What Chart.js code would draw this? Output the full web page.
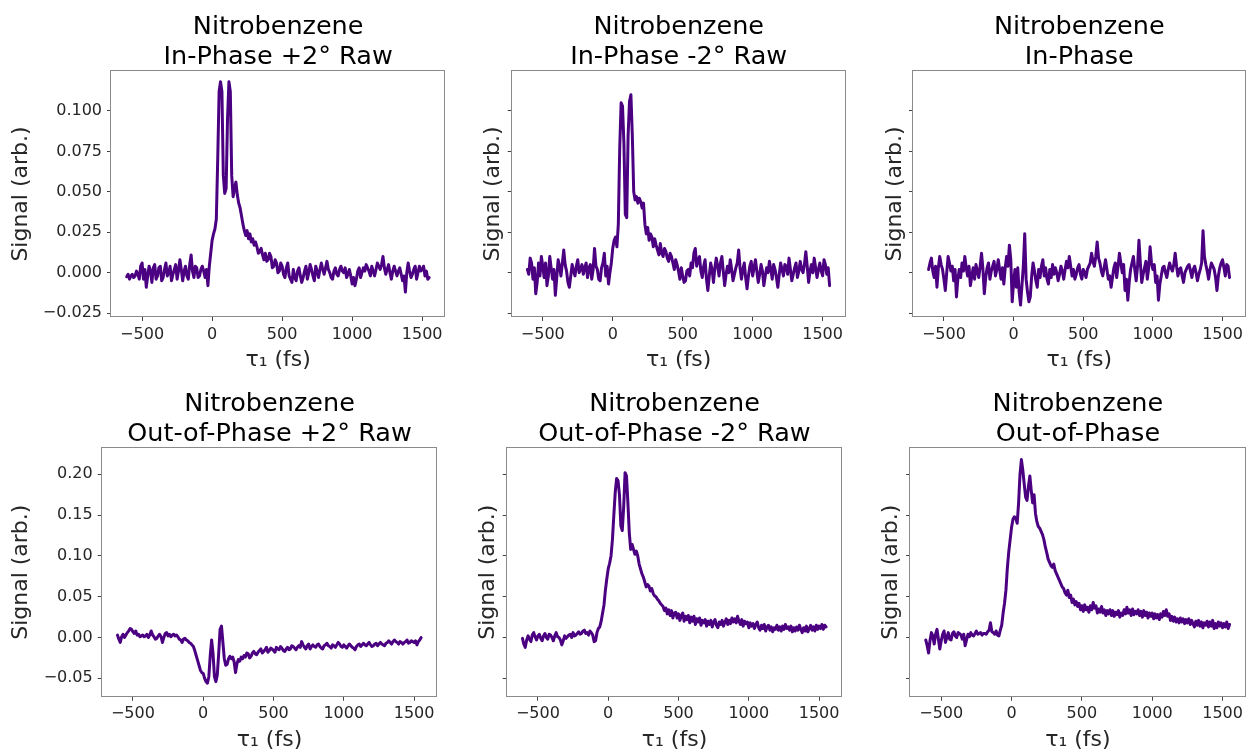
<!DOCTYPE html>
<html><head><meta charset="utf-8">
<script src="https://cdn.jsdelivr.net/npm/chart.js@4.4.1/dist/chart.umd.min.js"></script>
<style>
html,body{margin:0;padding:0;background:#fff;overflow:hidden;}
#wrap{position:relative;width:1247px;height:749px;overflow:hidden;background:#fff;}
canvas{position:absolute;}
</style></head><body><div id="wrap"></div>
<script>
// delay axis (fs)
const tau = [
 -610,-600,-590,-580,-570,-560,-550,-540,-530,-520,
 -510,-500,-490,-480,-470,-460,-450,-440,-430,-420,
 -410,-400,-390,-380,-370,-360,-350,-340,-330,-320,
 -310,-300,-290,-280,-270,-260,-250,-240,-230,-220,
 -210,-200,-190,-180,-170,-160,-150,-140,-130,-120,
 -110,-100,-90,-80,-70,-60,-50,-40,-30,-20,
 -10,0,10,20,30,40,50,60,70,80,
 90,100,110,120,130,140,150,160,170,180,
 190,200,210,220,230,240,250,260,270,280,
 290,300,310,320,330,340,350,360,370,380,
 390,400,410,420,430,440,450,460,470,480,
 490,500,510,520,530,540,550,560,570,580,
 590,600,610,620,630,640,650,660,670,680,
 690,700,710,720,730,740,750,760,770,780,
 790,800,810,820,830,840,850,860,870,880,
 890,900,910,920,930,940,950,960,970,980,
 990,1000,1010,1020,1030,1040,1050,1060,1070,1080,
 1090,1100,1110,1120,1130,1140,1150,1160,1170,1180,
 1190,1200,1210,1220,1230,1240,1250,1260,1270,1280,
 1290,1300,1310,1320,1330,1340,1350,1360,1370,1380,
 1390,1400,1410,1420,1430,1440,1450,1460,1470,1480,
 1490,1500,1510,1520,1530,1540,1550
];
const inPhasePlusRaw = [
 -0.0025,-0.001,-0.004,-0.002,-0.001,-0.003,-0.002,0.001,-0.001,-0.004,
 0.004,0.006,-0.004,0.002,-0.009,-0.002,0.004,0.001,-0.006,0.003,
 0.005,-0.004,-0.002,0.003,0.004,-0.005,-0.003,0.002,0.006,-0.002,
 0.000,0.004,-0.005,-0.001,0.002,0.005,-0.004,0.001,0.008,0.002,
 -0.005,0.001,0.004,-0.002,-0.004,0.005,0.011,0.001,-0.003,0.004,
 0.003,-0.003,-0.002,0.002,0.004,0.001,-0.003,0.002,-0.008,0.004,
 0.012,0.020,0.024,0.027,0.033,0.070,0.112,0.118,0.112,0.060,
 0.049,0.052,0.095,0.118,0.112,0.060,0.047,0.052,0.056,0.048,
 0.043,0.040,0.035,0.030,0.026,0.023,0.026,0.021,0.024,0.019,
 0.021,0.017,0.019,0.016,0.012,0.013,0.015,0.011,0.008,0.012,
 0.007,0.008,0.012,0.010,0.003,0.004,0.008,0.006,0.000,0.001,
 0.006,0.004,-0.001,-0.003,0.003,0.006,-0.002,-0.004,-0.006,0.002,
 -0.003,-0.005,0.001,0.003,-0.002,-0.006,-0.003,0.001,0.004,-0.004,
 0.000,0.005,0.002,-0.002,-0.005,0.004,0.001,-0.003,0.002,0.006,
 0.002,-0.001,0.003,0.007,0.002,0.000,-0.003,-0.004,0.001,0.003,
 -0.001,-0.002,0.002,0.004,0.001,0.000,0.003,-0.003,-0.001,0.002,
 -0.002,-0.007,-0.003,-0.008,-0.004,0.001,0.003,-0.003,0.000,0.003,
 0.001,0.005,0.003,0.001,-0.002,0.004,0.001,-0.002,0.002,0.006,
 0.004,0.002,0.005,0.010,0.003,-0.001,0.002,0.005,0.000,-0.004,
 0.001,0.004,0.001,-0.002,0.001,0.003,-0.001,-0.005,-0.002,-0.012,
 0.000,0.006,0.001,-0.003,-0.001,0.002,0.004,-0.004,0.000,0.004,
 0.001,0.002,0.004,-0.002,0.001,-0.004,-0.003
];
const inPhaseMinusRaw = [
 0.002,-0.001,0.009,0.006,-0.004,0.003,-0.013,-0.006,0.006,-0.002,
 0.010,0.004,-0.003,0.006,-0.008,-0.002,0.010,0.003,-0.004,0.002,
 -0.014,-0.003,0.008,0.004,-0.002,0.006,0.014,0.005,0.001,-0.006,
 -0.009,-0.002,0.005,0.001,-0.002,0.004,0.008,0.000,0.002,0.005,
 -0.001,0.003,0.006,-0.003,0.003,0.005,-0.004,0.002,0.015,0.004,
 0.002,-0.004,-0.005,0.003,0.006,0.012,-0.002,0.004,-0.007,0.000,
 0.006,0.015,0.020,0.022,0.016,0.030,0.077,0.105,0.103,0.080,
 0.036,0.034,0.085,0.106,0.110,0.085,0.050,0.045,0.047,0.043,
 0.046,0.044,0.040,0.043,0.030,0.024,0.028,0.020,0.024,0.022,
 0.016,0.021,0.017,0.014,0.011,0.018,0.012,0.010,0.015,0.013,
 0.009,0.007,0.012,0.010,0.006,0.002,0.008,0.005,0.001,-0.004,
 0.003,-0.002,-0.006,-0.005,0.001,0.002,-0.002,0.006,0.003,0.012,
 0.015,0.004,0.008,0.010,0.001,-0.003,0.004,0.008,-0.004,-0.011,
 -0.002,0.006,0.002,-0.006,0.003,0.009,0.004,-0.002,0.006,0.010,
 0.001,-0.008,-0.001,0.004,0.000,0.008,0.002,-0.005,-0.001,0.003,
 0.006,0.014,0.003,-0.004,0.002,0.006,-0.003,-0.010,-0.002,0.004,
 0.007,-0.002,0.003,0.008,0.001,-0.006,-0.001,0.005,0.001,-0.008,
 -0.002,0.003,0.000,0.007,0.002,-0.004,0.005,0.002,-0.003,-0.009,
 -0.001,0.006,0.002,-0.002,0.005,0.004,-0.001,0.009,0.002,-0.005,
 -0.001,0.003,0.006,-0.003,0.001,0.007,0.002,0.000,0.005,0.013,
 0.004,-0.006,0.001,0.005,0.000,0.009,0.003,-0.003,0.002,0.006,
 0.001,-0.002,0.008,0.005,-0.001,0.003,-0.008
];
const inPhase = [
 0.002,0.006,0.009,0.001,-0.003,0.004,-0.009,0.003,0.010,0.005,
 0.002,-0.004,-0.011,0.000,0.010,0.006,0.001,0.004,-0.005,0.002,
 -0.015,-0.004,0.002,-0.003,0.006,0.001,0.010,0.003,-0.002,0.004,
 -0.008,-0.002,0.003,-0.004,0.005,0.001,-0.003,0.004,0.012,0.002,
 -0.013,-0.003,0.003,0.006,-0.004,0.001,0.004,0.007,-0.002,0.002,
 0.008,0.002,-0.004,0.003,-0.007,0.003,0.010,0.004,0.017,0.008,
 -0.018,-0.006,0.002,-0.009,0.003,-0.012,-0.020,-0.008,0.004,0.024,
 -0.004,-0.012,-0.018,-0.015,-0.002,0.006,0.001,-0.005,-0.009,0.002,
 -0.003,0.004,0.008,-0.002,0.003,-0.004,-0.007,0.002,-0.003,0.005,
 -0.001,0.003,0.000,-0.005,-0.001,0.004,0.001,-0.004,0.002,0.007,
 0.003,0.010,0.004,-0.002,0.002,-0.004,-0.001,0.003,0.005,-0.001,
 -0.004,0.002,0.000,-0.003,0.002,0.004,0.006,0.012,0.007,0.004,
 0.010,0.019,0.009,0.006,0.001,-0.002,0.003,0.008,0.002,-0.004,
 -0.002,-0.009,-0.003,0.003,0.006,-0.003,0.004,0.012,0.006,0.000,
 0.005,-0.011,-0.004,-0.017,-0.006,0.002,0.006,0.010,0.002,-0.005,
 0.004,0.020,0.006,-0.006,-0.001,0.003,0.007,-0.004,0.003,0.016,
 0.006,0.002,0.005,-0.006,-0.002,-0.017,-0.007,-0.002,0.003,0.004,
 0.000,-0.003,0.002,0.006,0.003,0.001,0.005,0.012,0.004,-0.002,
 0.002,0.003,-0.002,-0.006,0.000,0.002,0.004,0.005,0.001,-0.003,
 0.002,0.004,0.000,-0.005,-0.001,0.002,0.006,0.026,0.010,0.005,
 0.001,-0.004,0.002,0.006,0.004,0.002,-0.003,-0.011,-0.002,0.003,
 0.006,0.008,0.003,-0.002,0.005,0.004,-0.003
];
const outPhasePlusRaw = [
 0.003,-0.002,-0.006,0.001,0.004,0.000,0.003,0.006,0.008,0.011,
 0.010,0.007,0.005,0.008,0.003,0.004,0.001,0.002,0.003,0.001,
 0.002,0.004,0.000,0.003,0.008,0.003,0.001,-0.002,-0.001,0.002,
 0.004,0.001,-0.006,0.000,0.005,0.006,0.002,0.004,0.001,0.003,
 0.004,0.002,0.003,0.001,-0.002,-0.003,-0.006,-0.002,-0.001,-0.003,
 -0.004,-0.006,-0.007,-0.009,-0.011,-0.016,-0.022,-0.028,-0.034,-0.040,
 -0.043,-0.044,-0.050,-0.054,-0.056,-0.048,-0.022,-0.003,-0.020,-0.048,
 -0.054,-0.046,-0.020,0.010,0.014,-0.006,-0.026,-0.034,-0.033,-0.026,
 -0.023,-0.026,-0.024,-0.030,-0.043,-0.032,-0.027,-0.029,-0.024,-0.026,
 -0.022,-0.024,-0.019,-0.020,-0.025,-0.023,-0.019,-0.017,-0.020,-0.021,
 -0.018,-0.016,-0.014,-0.019,-0.017,-0.015,-0.012,-0.018,-0.016,-0.013,
 -0.014,-0.016,-0.018,-0.012,-0.014,-0.015,-0.011,-0.013,-0.016,-0.017,
 -0.014,-0.012,-0.015,-0.014,-0.010,-0.011,-0.013,-0.015,-0.012,-0.010,
 -0.012,-0.005,-0.009,-0.012,-0.014,-0.010,-0.008,-0.014,-0.011,-0.009,
 -0.011,-0.012,-0.009,-0.008,-0.011,-0.013,-0.014,-0.010,-0.009,-0.007,
 -0.010,-0.011,-0.013,-0.009,-0.010,-0.012,-0.009,-0.006,-0.008,-0.011,
 -0.012,-0.009,-0.011,-0.013,-0.010,-0.008,-0.010,-0.012,-0.013,-0.015,
 -0.011,-0.009,-0.008,-0.011,-0.009,-0.007,-0.009,-0.010,-0.008,-0.006,
 -0.009,-0.011,-0.010,-0.008,-0.007,-0.010,-0.008,-0.006,-0.008,-0.009,
 -0.010,-0.007,-0.006,-0.004,-0.006,-0.008,-0.005,-0.003,-0.005,-0.006,
 -0.008,-0.005,-0.006,-0.008,-0.006,-0.005,-0.003,-0.007,-0.006,-0.004,
 -0.005,-0.006,-0.004,-0.009,-0.005,-0.003,0.000
];
const outPhaseMinusRaw = [
 -0.001,-0.008,-0.012,-0.003,0.002,-0.002,-0.005,0.003,0.006,0.001,
 -0.003,0.002,0.004,-0.001,-0.004,0.002,0.005,0.000,-0.002,0.004,
 0.003,0.000,-0.004,0.002,0.006,0.001,0.000,-0.003,-0.009,-0.004,
 0.002,-0.001,0.001,0.003,0.004,0.000,0.006,0.002,0.003,0.005,
 0.007,0.004,0.005,0.008,0.009,0.005,0.006,0.003,0.008,0.006,
 0.003,-0.005,-0.004,0.006,0.011,0.013,0.020,0.030,0.040,0.058,
 0.072,0.084,0.091,0.100,0.120,0.150,0.178,0.195,0.192,0.175,
 0.137,0.131,0.160,0.202,0.198,0.165,0.128,0.108,0.114,0.108,
 0.102,0.106,0.100,0.090,0.084,0.078,0.074,0.068,0.062,0.065,
 0.063,0.057,0.060,0.054,0.051,0.050,0.047,0.045,0.042,0.040,
 0.038,0.033,0.036,0.029,0.034,0.027,0.033,0.024,0.030,0.031,
 0.024,0.029,0.021,0.027,0.030,0.020,0.026,0.022,0.027,0.018,
 0.025,0.020,0.026,0.016,0.023,0.019,0.024,0.015,0.021,0.018,
 0.022,0.014,0.020,0.016,0.021,0.013,0.019,0.022,0.015,0.012,
 0.019,0.016,0.021,0.014,0.019,0.023,0.016,0.021,0.017,0.024,
 0.019,0.023,0.018,0.026,0.020,0.016,0.022,0.014,0.020,0.017,
 0.019,0.012,0.018,0.014,0.017,0.011,0.016,0.019,0.012,0.009,
 0.015,0.011,0.016,0.008,0.013,0.015,0.009,0.013,0.007,0.012,
 0.010,0.015,0.009,0.013,0.008,0.014,0.010,0.016,0.011,0.013,
 0.009,0.014,0.007,0.012,0.008,0.013,0.009,0.015,0.010,0.006,
 0.012,0.008,0.014,0.007,0.011,0.015,0.009,0.013,0.008,0.015,
 0.010,0.014,0.011,0.016,0.010,0.015,0.013
];
const outPhase = [
 -0.003,-0.010,-0.019,-0.004,0.006,0.002,-0.008,0.004,0.010,-0.002,
 -0.014,-0.004,0.004,0.008,-0.006,0.000,0.006,-0.002,-0.003,0.005,
 0.007,0.002,0.000,0.006,0.005,0.003,-0.002,0.004,-0.010,-0.003,
 0.004,0.001,0.006,0.003,0.002,0.005,0.008,0.004,0.005,0.006,
 0.003,0.005,0.005,0.004,0.007,0.009,0.018,0.007,0.006,0.004,
 0.008,0.003,0.002,0.009,0.015,0.030,0.042,0.058,0.085,0.105,
 0.120,0.135,0.145,0.148,0.146,0.140,0.165,0.200,0.218,0.205,
 0.188,0.172,0.168,0.185,0.198,0.180,0.165,0.175,0.152,0.142,
 0.136,0.134,0.130,0.126,0.120,0.111,0.104,0.096,0.092,0.088,
 0.086,0.090,0.082,0.078,0.074,0.070,0.066,0.062,0.060,0.055,
 0.052,0.058,0.049,0.052,0.043,0.047,0.040,0.044,0.038,0.042,
 0.034,0.039,0.032,0.040,0.034,0.037,0.031,0.039,0.034,0.043,
 0.036,0.039,0.030,0.035,0.031,0.038,0.030,0.034,0.027,0.033,
 0.029,0.034,0.027,0.033,0.026,0.031,0.028,0.033,0.025,0.030,
 0.027,0.034,0.029,0.037,0.030,0.034,0.027,0.035,0.028,0.032,
 0.029,0.034,0.027,0.032,0.025,0.033,0.027,0.031,0.024,0.030,
 0.026,0.030,0.023,0.029,0.024,0.028,0.022,0.029,0.025,0.032,
 0.027,0.034,0.026,0.029,0.021,0.026,0.020,0.025,0.019,0.023,
 0.018,0.024,0.019,0.023,0.017,0.022,0.018,0.023,0.016,0.021,
 0.017,0.013,0.020,0.015,0.021,0.014,0.019,0.012,0.018,0.015,
 0.020,0.013,0.019,0.014,0.021,0.011,0.017,0.012,0.019,0.014,
 0.018,0.012,0.017,0.013,0.019,0.011,0.016
];
const panelTitles = [
 ["Nitrobenzene","In-Phase +2° Raw"],
 ["Nitrobenzene","In-Phase -2° Raw"],
 ["Nitrobenzene","In-Phase"],
 ["Nitrobenzene","Out-of-Phase +2° Raw"],
 ["Nitrobenzene","Out-of-Phase -2° Raw"],
 ["Nitrobenzene","Out-of-Phase"]
];
const xTicks = [-500, 0, 500, 1000, 1500];
const yTicksTop = [-0.025, 0.000, 0.025, 0.050, 0.075, 0.100];
const yTicksBottom = [-0.05, 0.00, 0.05, 0.10, 0.15, 0.20];
const xLabel = "τ₁ (fs)";
const yLabel = "Signal (arb.)";

const seriesList = [inPhasePlusRaw, inPhaseMinusRaw, inPhase, outPhasePlusRaw, outPhaseMinusRaw, outPhase];

// layout (pixels)
const rows = [
 {top:0, h:374, tPadTop:12, tPadBot:-1, xH:56.5, padB:0.5, ymin:-0.0274, ymax:0.1247, ticks:yTicksTop, dec:3},
 {top:374, h:380, tPadTop:15, tPadBot:-1.3, xH:56.8, padB:0.5, ymin:-0.0725, ymax:0.2326, ticks:yTicksBottom, dec:2}
];
const cols = [
 [{left:0,w:460,padL:8.5,yW:102.5,padR:14.7,lab:true},{left:460,w:405,padL:19.8,yW:31.9,padR:19.3,lab:false},{left:865,w:382,padL:16.8,yW:31.2,padR:0.5,lab:false}],
 [{left:0,w:460,padL:8.5,yW:93.2,padR:22.7,lab:true},{left:460,w:405,padL:15.1,yW:31.6,padR:22.7,lab:false},{left:865,w:382,padL:13.5,yW:31.5,padR:0.5,lab:false}]
];

Chart.defaults.font.family = "'DejaVu Sans', sans-serif";

const frame = {
  id:'frame',
  afterDraw(chart){
    const {ctx, chartArea:a} = chart;
    ctx.save();
    ctx.strokeStyle = '#8a8a8a';
    ctx.lineWidth = 1;
    const x0 = Math.round(a.left)-0.5, y0 = Math.round(a.top)-0.5;
    const x1 = Math.round(a.right)-0.5, y1 = Math.round(a.bottom)-0.5;
    ctx.strokeRect(x0, y0, x1-x0, y1-y0);
    ctx.restore();
  }
};

const minus = s => s.replace('-', '\u2212');
const wrap = document.getElementById('wrap');

for (let r=0; r<2; r++) {
  for (let c=0; c<3; c++) {
    const R = rows[r], C = cols[r][c], idx = r*3+c;
    const cv = document.createElement('canvas');
    cv.width = C.w; cv.height = R.h;
    cv.style.left = C.left+'px'; cv.style.top = R.top+'px';
    cv.style.width = C.w+'px'; cv.style.height = R.h+'px';
    wrap.appendChild(cv);
    const data = tau.map((t,i)=>({x:t, y:seriesList[idx][i]}));
    new Chart(cv, {
      type:'line',
      data:{datasets:[{data, borderColor:'#4B0082', borderWidth:3, pointRadius:0, tension:0, fill:false, borderJoinStyle:'round', borderCapStyle:'round'}]},
      options:{
        responsive:false, animation:false, devicePixelRatio:1,
        events:[],
        layout:{padding:{left:C.padL, right:C.padR, top:0, bottom:R.padB}},
        plugins:{
          legend:{display:false}, tooltip:{enabled:false},
          title:{display:true, text:panelTitles[idx], fullSize:false, color:'#000',
                 font:{size:25.5, lineHeight:'30px', weight:'normal'},
                 padding:{top:R.tPadTop, bottom:R.tPadBot}}
        },
        scales:{
          x:{type:'linear', min:-722, max:1665,
             afterBuildTicks:s=>{s.ticks = xTicks.map(v=>({value:v}));},
             afterFit:s=>{s.height = R.xH;},
             grid:{drawOnChartArea:false, drawTicks:true, tickLength:4, tickColor:'#444', tickWidth:1},
             border:{display:false},
             ticks:{autoSkip:false, maxRotation:0, padding:4, color:'#262626', font:{size:16},
                    callback:v=>minus(String(v))},
             title:{display:true, text:xLabel, color:'#262626', font:{size:22, lineHeight:1.2}, padding:0}
          },
          y:{type:'linear', min:R.ymin, max:R.ymax,
             afterBuildTicks:s=>{s.ticks = R.ticks.map(v=>({value:v}));},
             afterFit:s=>{s.width = C.yW;},
             grid:{drawOnChartArea:false, drawTicks:true, tickLength:4, tickColor:'#444', tickWidth:1},
             border:{display:false},
             ticks:{display:C.lab, padding:5, color:'#262626', font:{size:16},
                    callback:v=>minus(Number(v).toFixed(R.dec))},
             title:{display:true, text:yLabel, color:'#262626', font:{size:22, lineHeight:1.2}, padding:0}
          }
        }
      },
      plugins:[frame]
    });
  }
}
</script></body></html>
